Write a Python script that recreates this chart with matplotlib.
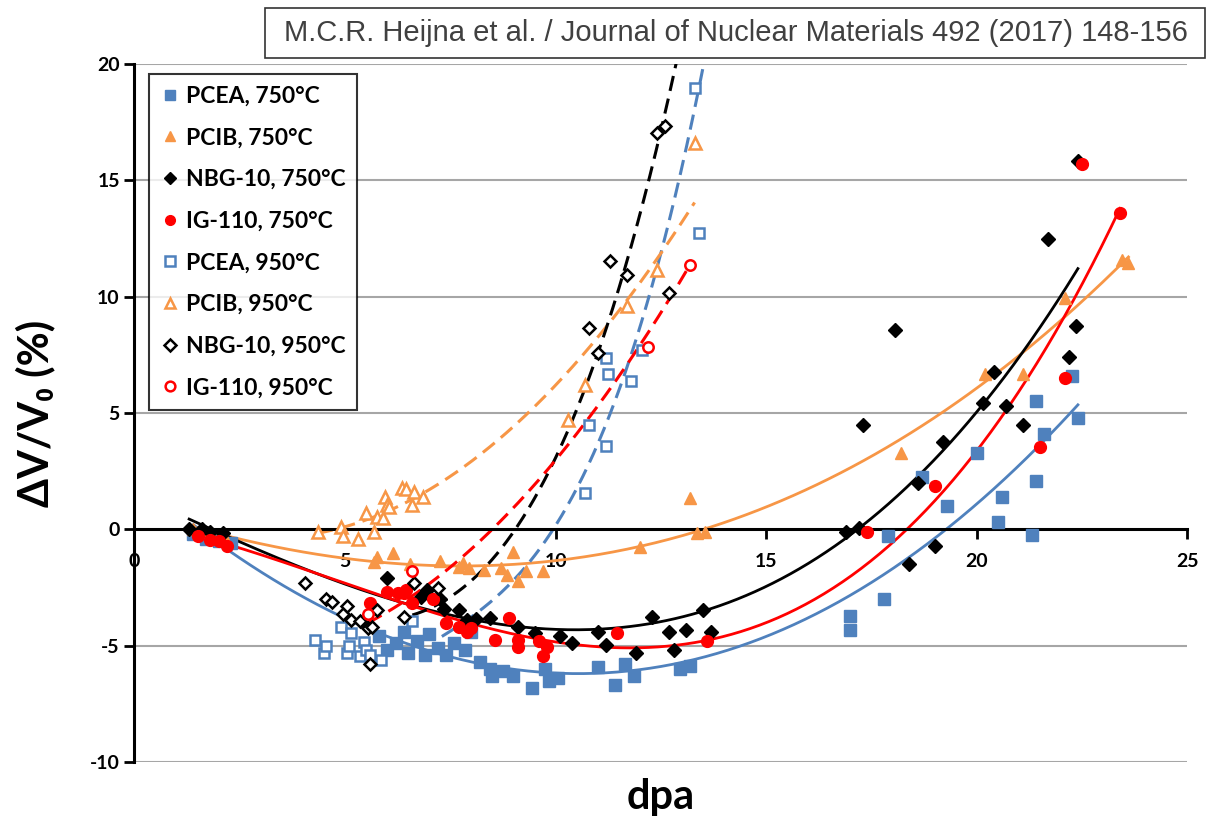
import numpy as np
import matplotlib
matplotlib.use("Agg")
import matplotlib.pyplot as plt
from matplotlib.lines import Line2D
from matplotlib.patches import Rectangle

# Volume change vs. dose, 750 °C (filled) and 950 °C (open)
pcea_750_x = [1.4, 1.7, 2.0, 2.3, 5.8, 6.0, 6.2, 6.4, 6.5, 6.7, 6.9, 7.0, 7.2, 7.4, 7.6, 7.85, 8.0,
              8.2, 8.45, 8.5, 8.75, 9.0, 9.45, 9.75, 9.85, 10.05, 11.0, 11.4, 11.65, 11.85, 12.95, 13.2,
              17.0, 17.0, 17.8, 17.9, 18.7, 19.3, 20.0, 20.5, 20.6, 21.3, 21.4, 21.4, 21.6, 22.25, 22.4]
pcea_750_y = [-0.2, -0.4, -0.5, -0.6, -4.6, -5.2, -4.9, -4.4, -5.3, -4.8, -5.4, -4.5, -5.1, -5.4, -4.9, -5.2, -4.4,
              -5.7, -6.0, -6.3, -6.1, -6.3, -6.8, -6.0, -6.5, -6.4, -5.9, -6.7, -5.8, -6.3, -6.0, -5.85,
              -3.7, -4.3, -3.0, -0.3, 2.25, 1.0, 3.3, 0.3, 1.4, -0.25, 2.1, 5.5, 4.1, 6.6, 4.8]

pcib_750_x = [1.4, 1.8, 2.1, 5.7, 5.75, 6.15, 6.55, 7.25, 7.7, 7.8, 7.95, 8.3, 8.7, 8.85, 9.0, 9.1, 9.3, 9.7,
              12.0, 13.2, 13.35, 13.55, 18.2, 20.2, 21.1, 22.1, 23.45, 23.6]
pcib_750_y = [0.0, -0.1, -0.2, -1.4, -1.2, -1.0, -1.5, -1.35, -1.6, -1.45, -1.65, -1.75, -1.65, -1.95, -0.95, -2.2, -1.8, -1.8,
              -0.75, 1.35, -0.15, -0.1, 3.3, 6.7, 6.7, 9.95, 11.6, 11.45]

nbg_750_x = [1.3, 1.6, 1.8, 2.1, 6.0, 6.8, 6.95, 7.25, 7.35, 7.7, 7.9, 8.1, 8.45, 9.1, 9.5, 10.1, 10.4, 11.0,
             11.2, 11.9, 12.3, 12.7, 12.8, 13.1, 13.5, 13.7, 16.9, 17.2, 17.3, 18.05, 18.4, 18.6, 19.0, 19.2,
             20.15, 20.4, 20.7, 21.1, 21.7, 22.2, 22.35, 22.4]
nbg_750_y = [0.0, 0.0, -0.1, -0.15, -2.1, -2.9, -2.6, -3.0, -3.4, -3.45, -3.9, -3.85, -3.8, -4.2, -4.45, -4.6, -4.9, -4.4,
             -4.95, -5.3, -3.75, -4.4, -5.2, -4.3, -3.45, -4.4, -0.1, 0.05, 4.5, 8.55, -1.5, 2.0, -0.7, 3.75,
             5.45, 6.75, 5.3, 4.5, 12.5, 7.4, 8.75, 15.85]

ig_750_x = [1.5, 1.8, 2.0, 2.2, 5.6, 6.0, 6.25, 6.4, 6.45, 6.6, 7.1, 7.4, 7.7, 7.9, 8.0, 8.55, 8.9, 9.1, 9.1,
            9.6, 9.7, 9.8, 11.45, 13.6, 17.4, 19.0, 21.5, 22.1, 22.5, 23.4]
ig_750_y = [-0.3, -0.45, -0.5, -0.7, -3.15, -2.7, -2.75, -2.75, -2.6, -3.15, -3.0, -4.0, -4.2, -4.4, -4.25, -4.75, -3.8, -4.75, -5.05,
            -4.8, -5.45, -5.05, -4.45, -4.8, -0.1, 1.85, 3.55, 6.5, 15.7, 13.6]

pcea_950_x = [4.3, 4.5, 4.55, 4.9, 5.05, 5.1, 5.15, 5.35, 5.45, 5.5, 5.6, 5.85, 6.6,
              10.7, 10.8, 11.2, 11.2, 11.25, 11.8, 12.05, 13.3, 13.4]
pcea_950_y = [-4.75, -5.3, -5.0, -4.2, -5.3, -5.0, -4.45, -5.45, -4.85, -5.2, -5.4, -5.6, -3.95,
              1.55, 4.5, 3.6, 7.35, 6.7, 6.4, 7.7, 18.95, 12.75]

pcib_950_x = [4.35, 4.9, 4.95, 5.3, 5.5, 5.7, 5.75, 5.9, 5.95, 6.0, 6.05, 6.35, 6.45, 6.6, 6.65, 6.85,
              10.3, 10.7, 11.7, 12.4, 13.3]
pcib_950_y = [-0.1, 0.1, -0.3, -0.4, 0.7, -0.1, 0.55, 0.5, 1.4, 1.05, 0.95, 1.8, 1.75, 1.05, 1.6, 1.4,
              4.7, 6.2, 9.6, 11.15, 16.6]

nbg_950_x = [4.05, 4.55, 4.7, 4.95, 5.05, 5.15, 5.35, 5.55, 5.65, 5.75, 5.6, 6.4, 6.65, 7.2,
             10.8, 11.0, 11.3, 11.7, 12.4, 12.6, 12.7]
nbg_950_y = [-2.3, -3.0, -3.1, -3.65, -3.3, -3.9, -3.95, -4.25, -4.2, -3.45, -5.8, -3.75, -2.3, -2.5,
             8.65, 7.6, 11.55, 10.95, 17.05, 17.35, 10.15]

ig_950_x = [5.55, 6.6, 12.2, 13.2]
ig_950_y = [-3.65, -1.8, 7.85, 11.35]

# 950 °C trendline equations (highest power first) and their dose ranges;
# part of these data sets lies above the plotted 20 %, so the fits are kept as published
pcea_950_fit = [0.06129, -1.2659, 9.797, -32.50]
pcib_950_fit = [0.14, -0.883, 1.03]
nbg_950_fit = [0.03327, -0.3519, 0.8571, -3.571]
ig_950_fit = [0.1386, -0.5845, -5.034]
fit_950_range = [(7.3, 13.6), (4.35, 13.3), (6.6, 13.1), (5.55, 13.2)]

BLUE = "#4F81BD"
ORANGE = "#F79646"
RED = "#FF0000"
BLACK = "#000000"

series = [
    ("PCEA, 750°C", pcea_750_x, pcea_750_y, "s", BLUE, True),
    ("PCIB, 750°C", pcib_750_x, pcib_750_y, "^", ORANGE, True),
    ("NBG-10, 750°C", nbg_750_x, nbg_750_y, "D", BLACK, True),
    ("IG-110, 750°C", ig_750_x, ig_750_y, "o", RED, True),
    ("PCEA, 950°C", pcea_950_x, pcea_950_y, "s", BLUE, False),
    ("PCIB, 950°C", pcib_950_x, pcib_950_y, "^", ORANGE, False),
    ("NBG-10, 950°C", nbg_950_x, nbg_950_y, "D", BLACK, False),
    ("IG-110, 950°C", ig_950_x, ig_950_y, "o", RED, False),
]
fits_950 = [pcea_950_fit, pcib_950_fit, nbg_950_fit, ig_950_fit]

plt.rcParams["font.family"] = ["Lato", "DejaVu Sans"]
plt.rcParams["font.weight"] = "bold"
plt.rcParams["axes.unicode_minus"] = False

fig = plt.figure(figsize=(12.16, 8.16), dpi=100)
ax = fig.add_axes([0.1105, 0.066, 0.866, 0.8555])

sizes = {"s": 8, "^": 9, "D": 7.5, "o": 8.5}

# 750 °C: cubic trendlines fitted to the points
for label, xs, ys, mk, col, filled in series[:4]:
    xs = np.asarray(xs)
    ys = np.asarray(ys)
    coef = np.polyfit(xs, ys, 3)
    xf = np.linspace(xs.min(), xs.max(), 400)
    ax.plot(xf, np.polyval(coef, xf), color=col, lw=2.0, zorder=2)

# 950 °C: dashed trendlines
for (label, xs, ys, mk, col, filled), coef, (x0, x1) in zip(series[4:], fits_950, fit_950_range):
    xf = np.linspace(x0, x1, 400)
    ax.plot(xf, np.polyval(coef, xf), color=col, lw=2.2, ls=(0, (5, 2.6)), zorder=2)

for label, xs, ys, mk, col, filled in series:
    ms = sizes[mk] if filled else sizes[mk] - 1
    ax.plot(xs, ys, ls="none", marker=mk, ms=ms,
            mfc=col if filled else "white", mec=col,
            mew=1.0 if filled else 1.8, zorder=3)

ax.set_xlim(0, 25)
ax.set_ylim(-10, 20)
ax.set_xticks(np.arange(0, 26, 5))
ax.set_yticks(np.arange(-10, 21, 5))
for yv in [-10, -5, 5, 10, 15, 20]:
    ax.axhline(yv, color="#A6A6A6", lw=1.5, zorder=1)

ax.spines["bottom"].set_position(("data", 0))
ax.spines["top"].set_visible(False)
ax.spines["right"].set_visible(False)
ax.spines["bottom"].set_linewidth(2.2)
ax.spines["left"].set_linewidth(2.2)
ax.spines["bottom"].set_zorder(2.5)
ax.tick_params(axis="both", direction="out", length=7, width=2, labelsize=14)
ax.tick_params(axis="x", pad=10)

ax.set_ylabel("ΔV/V₀ (%)", fontsize=30, fontweight="bold")
ax.yaxis.set_label_coords(-0.075, 0.5)
fig.text(0.543, 0.008, "dpa", fontsize=30, fontweight="bold", ha="center", va="baseline")

handles = []
for label, xs, ys, mk, col, filled in series:
    handles.append(Line2D([], [], ls="none", marker=mk, ms=7 if mk != "D" else 6,
                          mfc=col if filled else "white", mec=col,
                          mew=1.0 if filled else 1.8, label=label))
leg = ax.legend(handles=handles, loc="upper left", bbox_to_anchor=(0.0077, 0.995),
                fontsize=16.5, frameon=True, fancybox=False, edgecolor="black",
                labelspacing=0.9, handletextpad=0.3, borderpad=0.5, handlelength=0.8,
                borderaxespad=0.3)
leg.get_frame().set_linewidth(1.5)
for t in leg.get_texts():
    t.set_fontweight("bold")

# citation box across the top
fig.patches.append(Rectangle((265 / 1216, 1 - 58 / 816), 940 / 1216, 50 / 816,
                             transform=fig.transFigure, fc="white", ec="#333333", lw=1.2))
fig.text(736 / 1216, 1 - 33 / 816,
         "M.C.R. Heijna et al. / Journal of Nuclear Materials 492 (2017) 148-156",
         fontsize=21, color="#404040", ha="center", va="center", fontweight="normal",
         family=["Liberation Sans", "DejaVu Sans"])

fig.savefig("out.png", dpi=100)
